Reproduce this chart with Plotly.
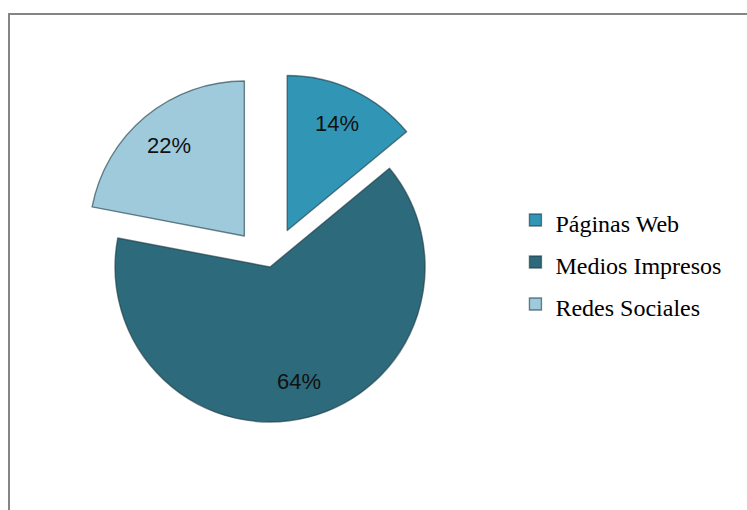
import math
import plotly.graph_objects as go

# Share of respondents by information channel (percent)
categories = ["Páginas Web", "Medios Impresos", "Redes Sociales"]
shares = [14, 64, 22]
pulls = [0.26, 0.0, 0.26]
colors = ["#3196b5", "#2d6a7b", "#9fcadc"]

W, H = 747, 510
dom_x = [0.100, 0.623]
dom_y = [0.0935, 0.8594]

# legend labels are drawn a bit smaller than the legend font so rows get extra spacing
legend_labels = [f'<span style="font-size:24px">{c}</span>' for c in categories]

fig = go.Figure(
    go.Pie(
        labels=legend_labels,
        values=shares,
        sort=False,
        direction="clockwise",
        rotation=0,
        pull=pulls,
        marker=dict(colors=colors, line=dict(color="rgba(25,55,65,0.6)", width=1.4)),
        textinfo="none",
        domain=dict(x=dom_x, y=dom_y),
        hovertemplate="%{label}: %{percent}<extra></extra>",
    )
)

# percentage labels placed along each slice's bisector
total = sum(shares)
cx = W * (dom_x[0] + dom_x[1]) / 2
cy = H * (1 - (dom_y[0] + dom_y[1]) / 2)
r = min(W * (dom_x[1] - dom_x[0]), H * (dom_y[1] - dom_y[0])) / (2 * (1 + max(pulls)))
start = 0.0
annotations = []
for v, p in zip(shares, pulls):
    mid = (start + v / 2) / total * 2 * math.pi
    start += v
    rr = r * (p + 0.76)
    px = cx + rr * math.sin(mid)
    py = cy - rr * math.cos(mid)
    annotations.append(
        dict(
            x=px / W, y=1 - py / H, xref="paper", yref="paper",
            text=f"{round(100 * v / total)}%", showarrow=False,
            font=dict(family="Liberation Sans Narrow, Arial Narrow, Liberation Sans, sans-serif",
                      size=22, color="#111111"),
            xanchor="center", yanchor="middle",
        )
    )

fig.update_layout(
    width=W,
    height=H,
    margin=dict(l=0, r=0, t=0, b=0, autoexpand=False),
    paper_bgcolor="white",
    plot_bgcolor="white",
    annotations=annotations,
    showlegend=True,
    legend=dict(
        x=0.690, xanchor="left",
        y=1 - 262 / H, yanchor="middle",
        font=dict(family="Liberation Serif, Times New Roman, serif", size=30, color="#000000"),
        bgcolor="rgba(0,0,0,0)",
        itemclick=False,
    ),
    shapes=[
        dict(type="rect", xref="paper", yref="paper",
             x0=9 / W, x1=1.05, y0=-0.05, y1=1 - 14 / H,
             line=dict(color="#858585", width=2), fillcolor="rgba(0,0,0,0)", layer="below"),
    ],
)

fig.write_html("out.html")
